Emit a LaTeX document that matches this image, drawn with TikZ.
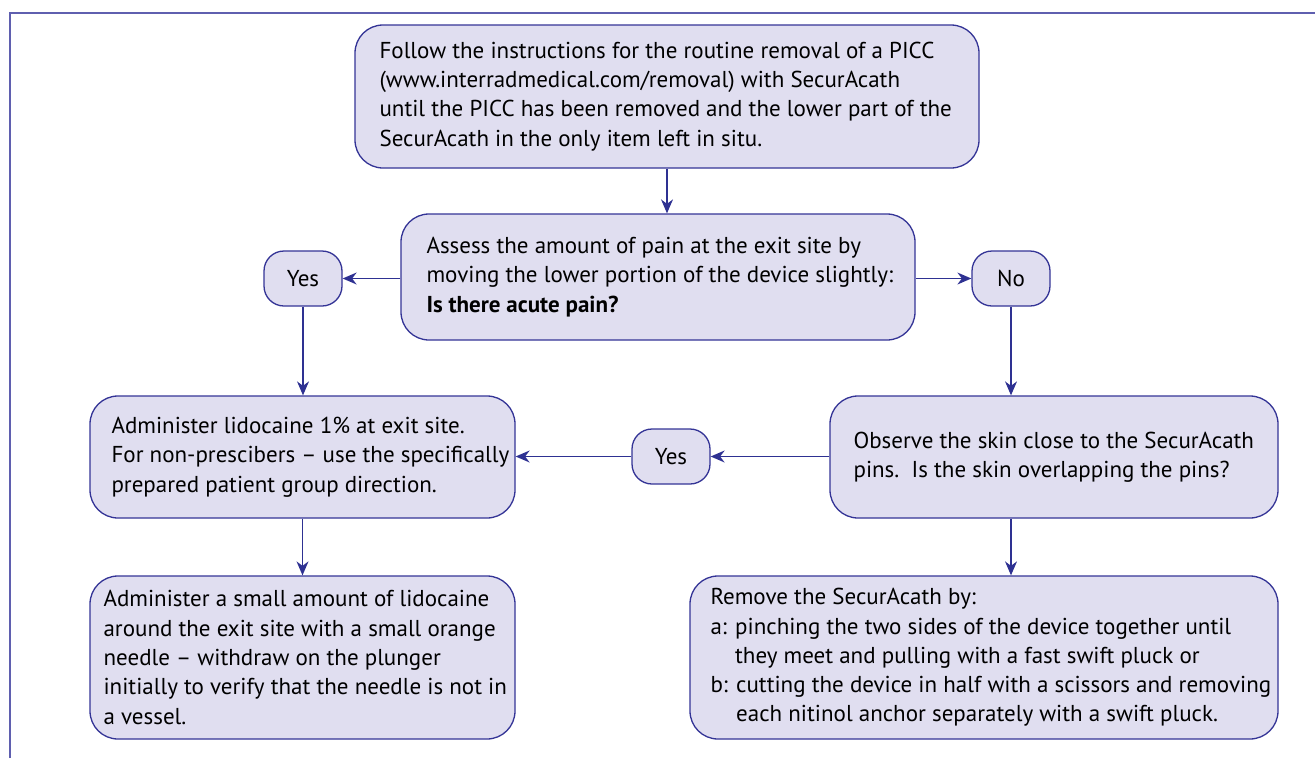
\documentclass[tikz,border=0pt]{standalone}
\usepackage{fontspec}
\setmainfont{PT Sans}
\usetikzlibrary{arrows.meta,calc}
\definecolor{boxfill}{RGB}{224,222,240}
\definecolor{boxdraw}{RGB}{52,52,150}
\definecolor{arrcol}{RGB}{46,49,146}
\definecolor{framecol}{RGB}{95,95,175}
\begin{document}
\begin{tikzpicture}[x=1pt,y=-1pt,
  box/.style={draw=boxdraw, fill=boxfill, line width=1.3pt, rounded corners=28pt, inner sep=0pt},
  small/.style={box, rounded corners=20pt, minimum width=78pt, minimum height=55pt, font=\fontsize{23}{29.3}\selectfont},
  txt/.style={anchor=west, align=left, inner sep=0pt, font=\fontsize{23}{29.3}\selectfont},
  conn/.style={draw=arrcol, line width=1.3pt, -{Stealth[length=14pt,width=12pt,inset=4.5pt]}}]
\useasboundingbox (0,0) rectangle (1315,758);
\draw[framecol, line width=1.2pt] (10,758) -- (10,13) -- (1315,13);

\node[box, minimum width=624pt, minimum height=143pt] (top) at (667,96.5) {};
\node[txt] (topT) at ($(top.west)+(25,0)$) {Follow the instructions for the routine removal of a PICC\\(www.interradmedical.com/removal) with SecurAcath\\until the PICC has been removed and the lower part of the\\SecurAcath in the only item left in situ.};

\node[box, minimum width=514pt, minimum height=126pt] (assess) at (658,277) {};
\node[txt] (assessT) at ($(assess.west)+(26,0)$) {Assess the amount of pain at the exit site by\\moving the lower portion of the device slightly:\\\textbf{Is there acute pain?}};

\node[small] (yesL) at (303,278.5) {Yes};
\node[small] (no) at (1011,278.5) {No};

\node[box, minimum width=425pt, minimum height=122pt] (lido) at (302.5,457) {};
\node[txt] (lidoT) at ($(lido.west)+(22,0)$) {Administer lidocaine 1\% at exit site.\\For non-prescibers -- use the specifically\\prepared patient group direction.};

\node[small] (yesM) at (671,456.5) {Yes};

\node[box, minimum width=448pt, minimum height=122pt] (obs) at (1054,457) {};
\node[txt] (obsT) at ($(obs.west)+(24,0)$) {Observe the skin close to the SecurAcath\\pins.\ \ Is the skin overlapping the pins?};

\node[box, minimum width=425pt, minimum height=163pt] (inj) at (302.5,657.5) {};
\node[txt] (injT) at ($(inj.west)+(14,0)$) {Administer a small amount of lidocaine\\around the exit site with a small orange\\needle -- withdraw on the plunger\\initially to verify that the needle is not in\\a vessel.};

\node[box, minimum width=588pt, minimum height=163pt] (rem) at (984,657.5) {};
\node[txt] (remT) at ($(rem.west)+(21,0)$) {Remove the SecurAcath by:\\a: pinching the two sides of the device together until\\\hphantom{a: }they meet and pulling with a fast swift pluck or\\b: cutting the device in half with a scissors and removing\\\hphantom{b: }each nitinol anchor separately with a swift pluck.};

\draw[conn] (top.south) -- (top.south |- assess.north);
\draw[conn] (assess.west |- yesL.east) -- (yesL.east);
\draw[conn] (assess.east |- no.west) -- (no.west);
\draw[conn] (yesL.south) -- (yesL.south |- lido.north);
\draw[conn] (no.south) -- (no.south |- obs.north);
\draw[conn] (obs.west |- yesM.east) -- (yesM.east);
\draw[conn] (yesM.west) -- (yesM.west -| lido.east);
\draw[conn] (lido.south) -- (inj.north);
\draw[conn] (no.south |- obs.south) -- (no.south |- rem.north);
\end{tikzpicture}
\end{document}
